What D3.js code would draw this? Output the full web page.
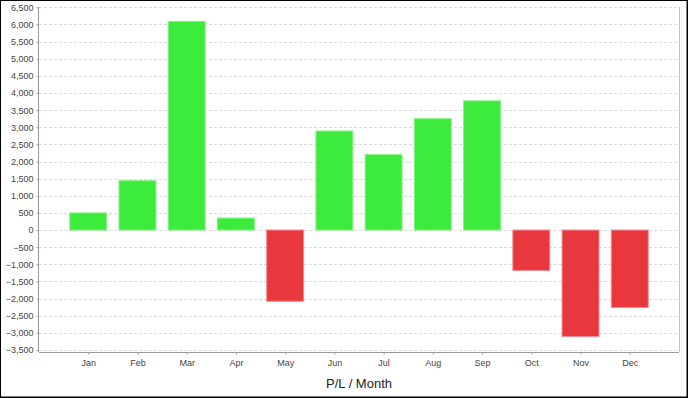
<!DOCTYPE html>
<html lang="en">
<head>
<meta charset="utf-8" />
<title>P/L / Month</title>
<script src="https://d3js.org/d3.v7.min.js"></script>
<style>
  body { margin: 0; background: #fff; }
  .tick text { font-family: "Liberation Sans", Arial, sans-serif; font-size: 9px; fill: #444; }
  .grid line { stroke: #dcdcdc; stroke-dasharray: 3,2; }
</style>
</head>
<body>
<script>
// data
var months = ["Jan", "Feb", "Mar", "Apr", "May", "Jun", "Jul", "Aug", "Sep", "Oct", "Nov", "Dec"];
var profit = [500, 1440, 6090, 350, -2080, 2890, 2200, 3250, 3770, -1180, -3110, -2260];
var yTicks = d3.range(-3500, 6501, 500);

var W = 688, H = 398;
var plot = {left: 39, right: 679, top: 7, bottom: 352};

var svg = d3.select("body").append("svg")
    .attr("width", W)
    .attr("height", H);

// outer frame
svg.append("rect")
    .attr("x", 0.5).attr("y", 0.5)
    .attr("width", W - 1.5).attr("height", H - 1.5)
    .attr("fill", "#fff")
    .attr("stroke", "#000");
svg.append("line").attr("x1", 0).attr("x2", W).attr("y1", H - 0.5).attr("y2", H - 0.5).attr("stroke", "#000");
svg.append("line").attr("x1", W - 0.5).attr("x2", W - 0.5).attr("y1", 0).attr("y2", H).attr("stroke", "#000");

var x = d3.scalePoint().domain(months).range([plot.left, plot.right]).padding(1);
var y = d3.scaleLinear().domain([-3560, 6510]).range([plot.bottom, plot.top]);
var barW = x.step() * 0.75;

// gridlines
svg.append("g")
    .attr("class", "grid")
    .selectAll("line")
    .data(yTicks)
    .enter().append("line")
    .attr("x1", plot.left).attr("x2", plot.right)
    .attr("y1", function(d) { return Math.round(y(d)) + 0.5; })
    .attr("y2", function(d) { return Math.round(y(d)) + 0.5; });

// right border of plot area
svg.append("line")
    .attr("x1", plot.right + 0.5).attr("x2", plot.right + 0.5)
    .attr("y1", plot.top).attr("y2", plot.bottom)
    .attr("stroke", "#c0c0c0");

// bars
svg.append("g").selectAll("rect")
    .data(profit)
    .enter().append("rect")
    .attr("x", function(d, i) { return x(months[i]) - barW / 2; })
    .attr("y", function(d) { return y(Math.max(0, d)); })
    .attr("width", barW)
    .attr("height", function(d) { return Math.abs(y(d) - y(0)); })
    .attr("fill", function(d) { return d >= 0 ? "#3deb3d" : "#e8383e"; })
    .attr("stroke", function(d) { return d >= 0 ? "#86f086" : "#f08a8d"; })
    .attr("stroke-width", 1);

// y axis
var yAxis = svg.append("g")
    .attr("transform", "translate(" + (plot.left - 0.5) + ",0)")
    .call(d3.axisLeft(y).tickValues(yTicks).tickFormat(d3.format(",")).tickSize(2).tickPadding(3));
yAxis.select(".domain").attr("stroke", "#999").attr("d", "M0," + plot.top + "V" + plot.bottom);
yAxis.selectAll(".tick line").attr("stroke", "#999");

// x axis
var xAxis = svg.append("g")
    .attr("transform", "translate(0," + (plot.bottom + 0.5) + ")")
    .call(d3.axisBottom(x).tickSize(2).tickPadding(5));
xAxis.select(".domain").attr("stroke", "#999").attr("d", "M" + plot.left + ",0H" + plot.right);
xAxis.selectAll(".tick line").attr("stroke", "#999");

// axis title
svg.append("text")
    .attr("x", (plot.left + plot.right) / 2)
    .attr("y", 388)
    .attr("text-anchor", "middle")
    .attr("font-family", "Liberation Sans, Arial, sans-serif")
    .attr("font-size", 13)
    .attr("fill", "#222")
    .text("P/L / Month");
</script>
</body>
</html>
